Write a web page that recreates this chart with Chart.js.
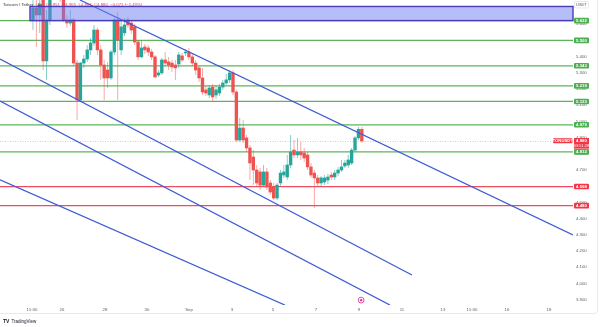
<!DOCTYPE html>
<html><head><meta charset="utf-8">
<script src="https://cdn.jsdelivr.net/npm/chart.js@4"></script>
<style>html,body{margin:0;padding:0;background:#fff;}canvas{display:block;}</style>
</head><body>
<canvas id="c" width="600" height="327"></canvas>
<script>
// ---- data (TON/USDT, 4h candles) ----
const opens = [
5.626,5.700,5.657,5.780,5.373,5.626,5.762,5.873,5.811,
5.749,5.626,5.607,5.626,5.360,5.132,5.360,5.385,5.441,5.484,
5.564,5.441,5.348,5.317,5.268,5.428,5.626,5.441,5.546,5.626,
5.607,5.583,5.490,5.398,5.459,5.453,5.428,5.398,5.286,5.299,
5.379,5.367,5.360,5.348,5.354,5.404,5.422,5.428,5.398,5.360,
5.330,5.268,5.194,5.163,5.212,5.163,5.175,5.212,5.237,5.256,
5.299,5.181,4.885,4.959,4.898,4.836,4.780,4.700,4.688,4.607,
4.688,4.620,4.595,4.527,4.620,4.669,4.657,4.731,4.823,4.793,
4.811,4.805,4.793,4.719,4.681,4.651,4.620,4.626,4.638,4.669,
4.657,4.681,4.700,4.725,4.731,4.743,4.823,4.898,4.951];
const highs = [
5.749,5.780,5.811,5.811,5.688,5.842,5.900,5.900,5.842,
5.780,5.657,5.688,5.638,5.379,5.367,5.410,5.472,5.515,5.595,
5.577,5.472,5.379,5.367,5.441,5.638,5.675,5.626,5.638,5.644,
5.626,5.601,5.502,5.502,5.478,5.472,5.447,5.410,5.317,5.391,
5.428,5.398,5.379,5.379,5.428,5.422,5.447,5.453,5.416,5.379,
5.342,5.330,5.219,5.225,5.231,5.225,5.231,5.256,5.293,5.317,
5.317,5.194,5.021,5.009,4.916,4.854,4.823,4.731,4.712,4.731,
4.712,4.638,4.620,4.620,4.700,4.731,4.793,4.916,4.885,4.898,
4.873,4.836,4.811,4.743,4.700,4.669,4.663,4.669,4.675,4.688,
4.700,4.719,4.762,4.762,4.793,4.836,4.910,4.965,4.965];
const lows = [
5.564,5.459,5.546,5.317,5.256,5.595,5.749,5.768,5.737,
5.614,5.577,5.589,5.342,5.009,5.120,5.330,5.367,5.410,5.465,
5.410,5.256,5.132,5.206,5.256,5.410,5.132,5.410,5.527,5.577,
5.540,5.472,5.379,5.391,5.416,5.404,5.379,5.268,5.274,5.286,
5.342,5.317,5.305,5.256,5.330,5.367,5.404,5.379,5.342,5.286,
5.243,5.163,5.157,5.144,5.120,5.138,5.157,5.194,5.225,5.237,
5.163,4.873,4.873,4.867,4.811,4.638,4.607,4.601,4.577,4.595,
4.577,4.546,4.515,4.515,4.601,4.651,4.638,4.712,4.774,4.774,
4.762,4.749,4.700,4.651,4.465,4.601,4.601,4.607,4.614,4.638,
4.638,4.663,4.688,4.712,4.712,4.731,4.811,4.885,4.867];
const closes = [
5.700,5.657,5.719,5.373,5.626,5.762,5.873,5.811,5.768,
5.626,5.607,5.626,5.360,5.132,5.360,5.385,5.441,5.484,5.564,
5.441,5.348,5.268,5.268,5.428,5.626,5.502,5.583,5.595,5.595,
5.564,5.490,5.398,5.453,5.441,5.428,5.398,5.274,5.299,5.379,
5.360,5.348,5.336,5.330,5.410,5.379,5.428,5.398,5.360,5.317,
5.268,5.181,5.175,5.206,5.151,5.194,5.212,5.237,5.256,5.299,
5.181,4.885,4.959,4.885,4.836,4.743,4.700,4.620,4.607,4.688,
4.595,4.564,4.527,4.607,4.681,4.688,4.731,4.811,4.793,4.811,
4.793,4.774,4.719,4.669,4.651,4.620,4.651,4.651,4.657,4.657,
4.681,4.700,4.719,4.743,4.762,4.823,4.898,4.951,4.880];

// x axis in candle-index units
const xTickPos    = [-0.29, 8.55, 21.24, 33.63, 46.02, 58.70, 70.80, 83.48, 96.17, 108.85, 120.94, 129.50, 139.82, 152.21];
const xTickLabels = ['15:30','26','28','30','Sep','3','5','7','9','11','13','15:30','16','18'];
const yTicks = [3.9,4.0,4.1,4.2,4.3,4.4,4.5,4.6,4.7,4.8,4.9,5.0,5.1,5.2,5.3,5.4,5.5,5.6];
const X_MIN = -9.73, X_MAX = 159.3, Y_MIN = 3.867, Y_MAX = 5.749;

const greenLevels = [5.622, 5.500, 5.343, 5.219, 5.123, 4.979, 4.812];
const redLevels   = [4.598, 4.480];
const zoneStart = -0.88, zoneTop = 5.709, zoneBottom = 5.622;
const lastPrice = closes[closes.length - 1];
const countdown = '03:51:28';
const eventMark = [96.8, 3.897];
// trend lines: [[x1,y1],[x2,y2]]
const trendA = [[13.86, 5.749], [159.3, 4.299]];
const trendB = [[-9.73, 5.385], [111.8, 4.052]];
const trendC = [[-9.73, 5.126], [105.3, 3.867]];
const trendD = [[-9.73, 4.640], [74.3, 3.867]];

// ---- styles ----
const UP = '#26a69a', DOWN = '#ef5350';
const UPW = 'rgba(38,166,154,0.6)', DOWNW = 'rgba(239,83,80,0.55)';
const GREEN = '#5cb45c', RED = '#ef4d5f', BLUE = '#3d5bd4';
const FONT = '"Liberation Sans", Arial, sans-serif';

const isUp = i => closes[i] >= opens[i];
const bodyData = opens.map((o, i) => ({x: i, y: [o, closes[i]]}));
const wickData = lows.map((l, i) => ({x: i, y: [l, highs[i]]}));

const lineDs = (pts, color, width, order) => ({
  type: 'line', data: pts.map(([x, y]) => ({x, y})), borderColor: color,
  borderWidth: width, pointRadius: 0, tension: 0, order: order
});

const datasets = [
  {type: 'bar', data: wickData, grouped: false, barThickness: 0.9, inflateAmount: 0, borderWidth: 0,
   backgroundColor: c => isUp(c.dataIndex) ? UPW : DOWNW, order: 2},
  {type: 'bar', data: bodyData, grouped: false, barThickness: 2.7, borderWidth: 0,
   backgroundColor: c => isUp(c.dataIndex) ? UP : DOWN, order: 1},
  ...greenLevels.map(v => lineDs([[X_MIN, v], [X_MAX, v]], GREEN, 1.2, 5)),
  ...redLevels.map(v => lineDs([[X_MIN, v], [X_MAX, v]], RED, 1.2, 5)),
  ...[trendA, trendB, trendC, trendD].map(t => lineDs(t, BLUE, 1.3, 0))
];

function tag(ctx, x, yc, w, h, bg, text, fg) {
  ctx.fillStyle = bg;
  ctx.beginPath();
  ctx.roundRect ? ctx.roundRect(x, yc - h / 2, w, h, 1) : ctx.rect(x, yc - h / 2, w, h);
  ctx.fill();
  ctx.fillStyle = fg;
  ctx.textAlign = 'center'; ctx.textBaseline = 'middle';
  ctx.fillText(text, x + w / 2, yc + 0.2);
}

const overlay = {
  id: 'overlay',
  beforeDraw(chart) {
    const {ctx, width, height} = chart;
    ctx.save(); ctx.fillStyle = '#fff'; ctx.fillRect(0, 0, width, height); ctx.restore();
  },
  beforeDatasetsDraw(chart) {
    const {ctx, chartArea: a, scales: {y}} = chart;
    const py = Math.round(y.getPixelForValue(lastPrice)) + 0.5;
    ctx.save();
    ctx.strokeStyle = 'rgba(200,120,125,0.45)'; ctx.lineWidth = 1; ctx.setLineDash([1, 1.5]);
    ctx.beginPath(); ctx.moveTo(a.left, py); ctx.lineTo(a.right, py); ctx.stroke();
    ctx.restore();
  },
  afterDatasetsDraw(chart) {
    const {ctx, chartArea: a, scales: {x, y}} = chart;
    ctx.save();
    // supply zone
    const zx = x.getPixelForValue(zoneStart);
    const zy1 = y.getPixelForValue(zoneTop), zy2 = y.getPixelForValue(zoneBottom);
    ctx.fillStyle = 'rgba(110,126,242,0.5)';
    ctx.fillRect(zx, zy1, a.right - zx, zy2 - zy1);
    ctx.strokeStyle = '#4a3cb8'; ctx.lineWidth = 1.4;
    ctx.strokeRect(zx, zy1, a.right - zx, zy2 - zy1);

    // level tags
    ctx.font = 'bold 4.3px ' + FONT;
    greenLevels.forEach(v => tag(ctx, a.right + 1, y.getPixelForValue(v), 15, 5.6, '#4caf50', v.toFixed(3), '#fff'));
    redLevels.forEach(v => tag(ctx, a.right + 1, y.getPixelForValue(v), 15, 5.6, '#f23645', v.toFixed(3), '#fff'));

    // last price tags
    const py = y.getPixelForValue(lastPrice);
    tag(ctx, a.right - 20, py, 19.5, 5, '#f23645', 'TONUSDT', '#fff');
    ctx.fillStyle = '#f23645';
    ctx.fillRect(a.right + 1, py - 2.8, 15, 10.6);
    ctx.fillStyle = '#fff'; ctx.textAlign = 'center'; ctx.textBaseline = 'middle';
    ctx.fillText(lastPrice.toFixed(3), a.right + 8.5, py);
    ctx.font = '4px ' + FONT;
    ctx.fillText(countdown, a.right + 8.5, py + 5);

    // USDT currency box
    ctx.fillStyle = '#fff'; ctx.strokeStyle = '#d6d8de'; ctx.lineWidth = 0.6;
    ctx.beginPath(); ctx.roundRect ? ctx.roundRect(a.right + 1.5, 1.5, 14, 6.5, 1.5) : ctx.rect(a.right + 1.5, 1.5, 14, 6.5);
    ctx.fill(); ctx.stroke();
    ctx.fillStyle = '#555'; ctx.font = '4px ' + FONT;
    ctx.fillText('USDT', a.right + 8.5, 4.9);

    // event marker
    const ex = x.getPixelForValue(eventMark[0]), ey = y.getPixelForValue(eventMark[1]);
    ctx.fillStyle = '#fff'; ctx.strokeStyle = '#d83a94'; ctx.lineWidth = 0.9;
    ctx.beginPath(); ctx.arc(ex, ey, 2.9, 0, Math.PI * 2); ctx.fill(); ctx.stroke();
    ctx.fillStyle = '#d83a94';
    ctx.beginPath(); ctx.arc(ex, ey, 1.2, 0, Math.PI * 2); ctx.fill();

    // header legend
    const n = closes.length - 1;
    const chg = closes[n] - closes[n - 1];
    const pct = chg / closes[n - 1] * 100;
    ctx.font = '4.3px ' + FONT; ctx.textAlign = 'left'; ctx.textBaseline = 'middle';
    const head = 'Toncoin / Tether · 4h · ';
    ctx.fillStyle = '#333';
    ctx.fillText(head, 3, 4.5);
    const w0 = ctx.measureText(head).width;
    const ohlc = 'O' + opens[n].toFixed(3) + '  H' + highs[n].toFixed(3) + '  L' + lows[n].toFixed(3) +
      '  C' + closes[n].toFixed(3) + '  ' + (chg < 0 ? '−' : '+') + Math.abs(chg).toFixed(3) +
      ' (' + (pct < 0 ? '−' : '+') + Math.abs(pct).toFixed(2) + '%)';
    ctx.fillStyle = '#e8404e';
    ctx.fillText(ohlc, 3 + w0, 4.5);
    ctx.restore();
  },
  afterDraw(chart) {
    const {ctx} = chart;
    ctx.save();
    ctx.strokeStyle = '#e3e5ea'; ctx.lineWidth = 0.8;
    ctx.beginPath();
    ctx.moveTo(0, 313.5); ctx.lineTo(594, 313.5);
    ctx.quadraticCurveTo(597.5, 313.5, 597.5, 310); ctx.lineTo(597.5, 0);
    ctx.stroke();
    // TradingView logo
    ctx.fillStyle = '#131722'; ctx.textBaseline = 'middle'; ctx.textAlign = 'left';
    ctx.font = 'bold 5px ' + FONT;
    ctx.fillText('TV', 3, 322);
    ctx.font = '4.5px ' + FONT;
    ctx.fillText('TradingView', 11.5, 322);
    ctx.restore();
  }
};

new Chart(document.getElementById('c'), {
  type: 'bar',
  data: {datasets},
  options: {
    responsive: false, animation: false, devicePixelRatio: 1,
    layout: {padding: 0},
    plugins: {legend: {display: false}, tooltip: {enabled: false}},
    scales: {
      x: {
        type: 'linear', min: X_MIN, max: X_MAX, offset: false,
        grid: {display: false, drawTicks: false}, border: {display: false},
        afterBuildTicks: s => { s.ticks = xTickPos.map(v => ({value: v})); },
        afterFit: s => { s.height = 22; s.paddingLeft = 0; s.paddingRight = 0; },
        ticks: {autoSkip: false, maxRotation: 0, padding: 2.5, color: '#5d606b',
                font: {size: 4.3, family: FONT}, callback: (v, i) => xTickLabels[i]}
      },
      y: {
        type: 'linear', position: 'right', min: Y_MIN, max: Y_MAX, beginAtZero: false,
        grid: {display: false, drawTicks: false}, border: {display: false},
        afterBuildTicks: s => { s.ticks = yTicks.map(v => ({value: v})); },
        afterFit: s => { s.width = 27; s.paddingTop = 0; s.paddingBottom = 0; },
        ticks: {padding: 3, color: '#5d606b', font: {size: 4.3, family: FONT},
                callback: v => v.toFixed(3)}
      }
    }
  },
  plugins: [overlay]
});
</script>
</body></html>
